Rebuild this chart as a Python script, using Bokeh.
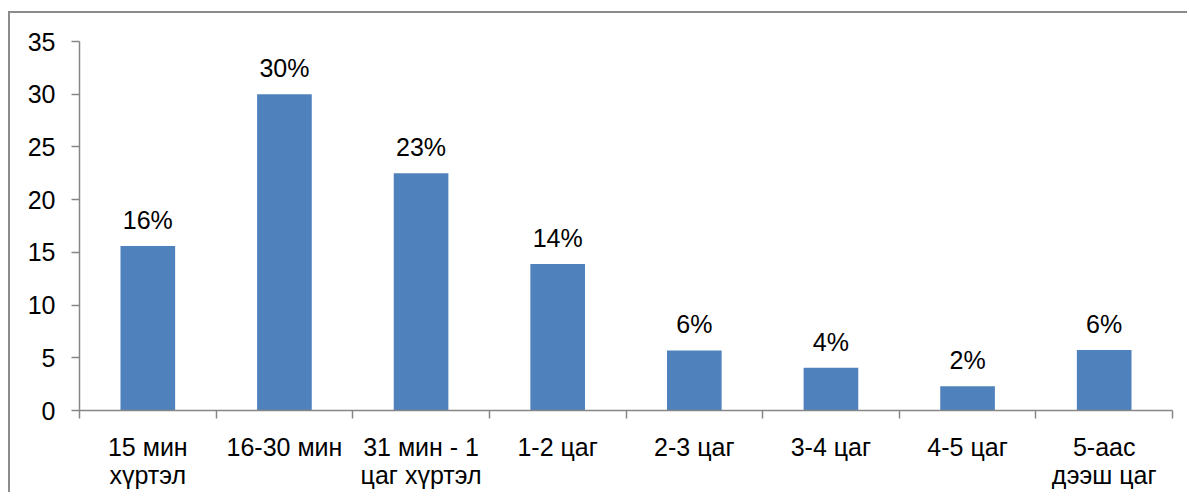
from bokeh.plotting import figure
from bokeh.models import FixedTicker, Range1d, ColumnDataSource, LabelSet, GlobalInlineStyleSheet
from bokeh.core.properties import value
from bokeh.embed import file_html
from bokeh.resources import INLINE

categories = ["15 мин\nхүртэл", "16-30 мин", "31 мин - 1\nцаг хүртэл", "1-2 цаг",
              "2-3 цаг", "3-4 цаг", "4-5 цаг", "5-аас\nдээш цаг"]
values = [15.6, 30.0, 22.5, 13.9, 5.7, 4.05, 2.3, 5.75]
labels = ["16%", "30%", "23%", "14%", "6%", "4%", "2%", "6%"]
y_ticks = [0, 5, 10, 15, 20, 25, 30, 35]

FONT = "Liberation Sans"
FS = "25px"
AXIS_COLOR = "#868686"

xs = list(range(len(categories)))
source = ColumnDataSource(dict(x=xs, top=values, label=labels))

p = figure(
    output_backend="svg", toolbar_location=None,
    frame_width=1093, frame_height=369,
    min_border_left=69, min_border_right=17, min_border_top=28, min_border_bottom=84,
    x_range=Range1d(-0.5, len(categories) - 0.5),
    y_range=Range1d(0, 35),
    background_fill_color="white", border_fill_color="white",
)
p.margin = (13, 0, 0, 10)
p.styles = {"box-shadow": "-2px -2px 0 0 #8c8c8c"}
p.stylesheets = [GlobalInlineStyleSheet(css="html, body { overflow: hidden; }")]
p.outline_line_color = None
p.grid.visible = False

p.vbar(x="x", top="top", width=0.4, source=source, fill_color="#4F81BD", line_color=None)

p.add_layout(LabelSet(x="x", y="top", text="label", source=source, y_offset=17,
                      text_align="center", text_baseline="alphabetic",
                      text_font=value(FONT), text_font_size=value(FS), text_color="black"))

xa = p.xaxis[0]
xa.ticker = FixedTicker(ticks=xs, minor_ticks=[i - 0.5 for i in range(len(categories) + 1)])
xa.major_label_overrides = {i: c for i, c in enumerate(categories)}
xa.major_tick_out = 0
xa.major_tick_in = 0
xa.minor_tick_out = 8
xa.minor_tick_in = 0
xa.minor_tick_line_color = AXIS_COLOR
xa.axis_line_color = AXIS_COLOR
xa.axis_line_width = 1.5
xa.minor_tick_line_width = 1.5
xa.major_label_standoff = 14
xa.major_label_text_font = FONT
xa.major_label_text_font_size = FS
xa.major_label_text_line_height = 1.0
xa.major_label_text_color = "black"

ya = p.yaxis[0]
ya.ticker = FixedTicker(ticks=y_ticks, minor_ticks=[])
ya.major_tick_out = 8
ya.major_tick_in = 0
ya.major_tick_line_color = AXIS_COLOR
ya.major_tick_line_width = 1.5
ya.axis_line_color = AXIS_COLOR
ya.axis_line_width = 1.5
ya.major_label_standoff = 16
ya.major_label_text_font = FONT
ya.major_label_text_font_size = FS
ya.major_label_text_color = "black"

open("out.html", "w").write(file_html(p, INLINE))
